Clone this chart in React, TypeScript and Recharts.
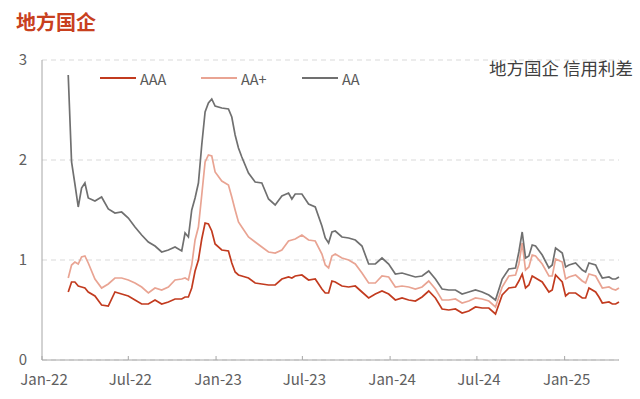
import React from 'react';
import { LineChart, Line, XAxis, YAxis, CartesianGrid } from 'recharts';

const dates = [
  '2022-02-25', '2022-03-04', '2022-03-11', '2022-03-18', '2022-03-25', '2022-04-01', '2022-04-08', '2022-04-22',
  '2022-05-06', '2022-05-20', '2022-06-03', '2022-06-17', '2022-07-01', '2022-07-15', '2022-07-29', '2022-08-12',
  '2022-08-26', '2022-09-09', '2022-09-23', '2022-10-07', '2022-10-21', '2022-10-28', '2022-11-04', '2022-11-11',
  '2022-11-18', '2022-11-25', '2022-12-02', '2022-12-09', '2022-12-16', '2022-12-23', '2022-12-30', '2023-01-13',
  '2023-01-27', '2023-02-03', '2023-02-10', '2023-02-17', '2023-02-24', '2023-03-10', '2023-03-24', '2023-04-07',
  '2023-04-21', '2023-05-05', '2023-05-19', '2023-06-02', '2023-06-09', '2023-06-16', '2023-06-30', '2023-07-14',
  '2023-07-28', '2023-08-11', '2023-08-18', '2023-08-25', '2023-09-01', '2023-09-08', '2023-09-22', '2023-10-06',
  '2023-10-20', '2023-11-03', '2023-11-17', '2023-12-01', '2023-12-15', '2023-12-29', '2024-01-12', '2024-01-26',
  '2024-02-09', '2024-02-23', '2024-03-08', '2024-03-22', '2024-04-05', '2024-04-19', '2024-05-03', '2024-05-17',
  '2024-05-31', '2024-06-14', '2024-06-28', '2024-07-12', '2024-07-26', '2024-08-09', '2024-08-23', '2024-09-06',
  '2024-09-20', '2024-09-27', '2024-10-04', '2024-10-11', '2024-10-18', '2024-10-25', '2024-11-01', '2024-11-15',
  '2024-11-29', '2024-12-06', '2024-12-13', '2024-12-27', '2025-01-03', '2025-01-10', '2025-01-24', '2025-02-07',
  '2025-02-14', '2025-02-21', '2025-03-07', '2025-03-14', '2025-03-21', '2025-04-04', '2025-04-11', '2025-04-18',
  '2025-04-25',
];

const aaa = [
  0.68, 0.78, 0.78, 0.74, 0.73, 0.72, 0.68, 0.64,
  0.55, 0.54, 0.68, 0.66, 0.64, 0.60, 0.56, 0.56,
  0.60, 0.56, 0.58, 0.61, 0.61, 0.63, 0.63, 0.72,
  0.89, 1.00, 1.21, 1.37, 1.36, 1.29, 1.16, 1.10,
  1.09, 0.97, 0.88, 0.85, 0.84, 0.82, 0.77, 0.76,
  0.75, 0.75, 0.81, 0.83, 0.82, 0.84, 0.85, 0.80,
  0.81, 0.71, 0.67, 0.67, 0.79, 0.78, 0.74, 0.73,
  0.74, 0.68, 0.62, 0.66, 0.69, 0.66, 0.60, 0.62,
  0.60, 0.59, 0.63, 0.69, 0.62, 0.51, 0.50, 0.51,
  0.47, 0.49, 0.53, 0.52, 0.52, 0.46, 0.65, 0.72,
  0.73, 0.79, 0.86, 0.72, 0.75, 0.84, 0.82, 0.78,
  0.68, 0.70, 0.85, 0.78, 0.64, 0.67, 0.67, 0.62,
  0.62, 0.72, 0.68, 0.63, 0.57, 0.58, 0.56, 0.56,
  0.58,
];

const aaPlus = [
  0.82, 0.95, 0.98, 0.96, 1.03, 1.04, 0.97, 0.81,
  0.72, 0.76, 0.82, 0.82, 0.80, 0.77, 0.73, 0.67,
  0.72, 0.70, 0.73, 0.80, 0.81, 0.82, 0.80, 0.95,
  1.20, 1.33, 1.65, 1.98, 2.05, 2.04, 1.88, 1.79,
  1.75, 1.63, 1.50, 1.38, 1.33, 1.23, 1.18, 1.13,
  1.08, 1.07, 1.10, 1.19, 1.20, 1.21, 1.25, 1.20,
  1.19, 1.06, 0.95, 0.92, 1.04, 1.06, 1.02, 1.00,
  0.96, 0.87, 0.77, 0.77, 0.84, 0.83, 0.73, 0.74,
  0.73, 0.71, 0.73, 0.79, 0.71, 0.60, 0.60, 0.61,
  0.57, 0.59, 0.62, 0.61, 0.59, 0.53, 0.73, 0.84,
  0.85, 0.96, 1.17, 0.90, 0.93, 1.05, 1.04, 0.96,
  0.84, 0.84, 1.01, 0.98, 0.81, 0.83, 0.85, 0.79,
  0.77, 0.86, 0.84, 0.78, 0.72, 0.73, 0.71, 0.70,
  0.72,
];

const aa = [
  2.85, 1.98, 1.76, 1.53, 1.72, 1.77, 1.62, 1.59,
  1.63, 1.51, 1.47, 1.48, 1.42, 1.33, 1.25, 1.18,
  1.14, 1.08, 1.10, 1.13, 1.09, 1.27, 1.23, 1.50,
  1.62, 1.77, 2.15, 2.48, 2.57, 2.61, 2.54, 2.52,
  2.51, 2.43, 2.25, 2.12, 2.03, 1.87, 1.78, 1.77,
  1.61, 1.55, 1.64, 1.67, 1.61, 1.66, 1.66, 1.56,
  1.53, 1.34, 1.22, 1.17, 1.28, 1.29, 1.23, 1.22,
  1.20, 1.14, 0.96, 0.96, 1.02, 0.96, 0.86, 0.87,
  0.85, 0.83, 0.84, 0.89, 0.81, 0.71, 0.70, 0.70,
  0.66, 0.68, 0.70, 0.68, 0.65, 0.60, 0.81, 0.91,
  0.92, 1.08, 1.28, 1.02, 1.04, 1.15, 1.14, 1.05,
  0.92, 0.95, 1.12, 1.07, 0.93, 0.95, 0.97, 0.90,
  0.88, 0.97, 0.95, 0.88, 0.82, 0.83, 0.81, 0.81,
  0.83,
];

const xTicks = ['2022-01-01', '2022-07-01', '2023-01-01', '2023-07-01', '2024-01-01', '2024-07-01', '2025-01-01'];
const yTicks = [0, 1, 2, 3];
const monthNames = ['Jan', 'Feb', 'Mar', 'Apr', 'May', 'Jun', 'Jul', 'Aug', 'Sep', 'Oct', 'Nov', 'Dec'];

const series = [
  { key: 'AAA', color: '#C23B1F', values: aaa },
  { key: 'AA+', color: '#E9A493', values: aaPlus },
  { key: 'AA', color: '#707070', values: aa },
];

const FONT = "'Noto Sans CJK SC', 'Noto Sans', sans-serif";

const data = dates.map((d, i) => {
  const row: any = { t: Date.parse(d) };
  series.forEach((s) => { row[s.key] = s.values[i]; });
  return row;
});

const XTick = (props: any) => {
  const { x, y, payload } = props;
  const d = new Date(payload.value);
  const label = `${monthNames[d.getUTCMonth()]}-${String(d.getUTCFullYear()).slice(2)}`;
  return (
    <g>
      <line x1={x} y1={y} x2={x} y2={y - 4} stroke="#a6a6a6" />
      <text x={x + 2} y={y + 25} textAnchor="middle" fill="#606060" fontSize={15} fontFamily={FONT}>
        {label}
      </text>
    </g>
  );
};

const YTick = (props: any) => {
  const { y, payload } = props;
  return (
    <text x={27} y={y + 5} textAnchor="end" fill="#606060" fontSize={15} fontFamily={FONT}>
      {payload.value}
    </text>
  );
};

const legendPos = [100, 201, 302];

export default function App() {
  return (
    <div style={{ position: 'absolute', left: 0, top: 0, width: 640, height: 399, background: '#fff', fontFamily: FONT }}>
      <div style={{ position: 'absolute', left: 16, top: 9, fontSize: 20, fontWeight: 700, color: '#C8401E', lineHeight: '26px' }}>
        地方国企
      </div>
      <div style={{ position: 'absolute', right: 7, top: 56, fontSize: 17.5, color: '#404040', lineHeight: '24px' }}>
        地方国企 信用利差
      </div>
      {series.map((s, i) => (
        <div key={s.key} style={{ position: 'absolute', left: legendPos[i], top: 68, height: 20, display: 'flex', alignItems: 'center' }}>
          <div style={{ width: 36, height: 2, background: s.color }} />
          <span style={{ marginLeft: 4, fontSize: 14.5, color: '#595959' }}>{s.key}</span>
        </div>
      ))}
      <LineChart width={640} height={399} data={data} margin={{ top: 60, right: 21, bottom: 0, left: 0 }}>
        <CartesianGrid horizontal vertical={false} stroke="#d9d9d9" strokeDasharray="5 4" />
        <XAxis
          dataKey="t"
          type="number"
          domain={[Date.parse('2022-01-01'), Date.parse('2025-04-25')]}
          ticks={xTicks.map((d) => Date.parse(d))}
          interval={0}
          height={39}
          axisLine={{ stroke: '#a6a6a6' }}
          tickLine={false}
          tickSize={0}
          tickMargin={0}
          tick={<XTick />}
        />
        <YAxis
          width={42}
          domain={[0, 3]}
          ticks={yTicks}
          axisLine={{ stroke: '#a6a6a6' }}
          tickLine={false}
          tick={<YTick />}
        />
        {series.map((s) => (
          <Line
            key={s.key}
            dataKey={s.key}
            type="linear"
            stroke={s.color}
            strokeWidth={1.7}
            dot={false}
            isAnimationActive={false}
          />
        ))}
      </LineChart>
    </div>
  );
}
